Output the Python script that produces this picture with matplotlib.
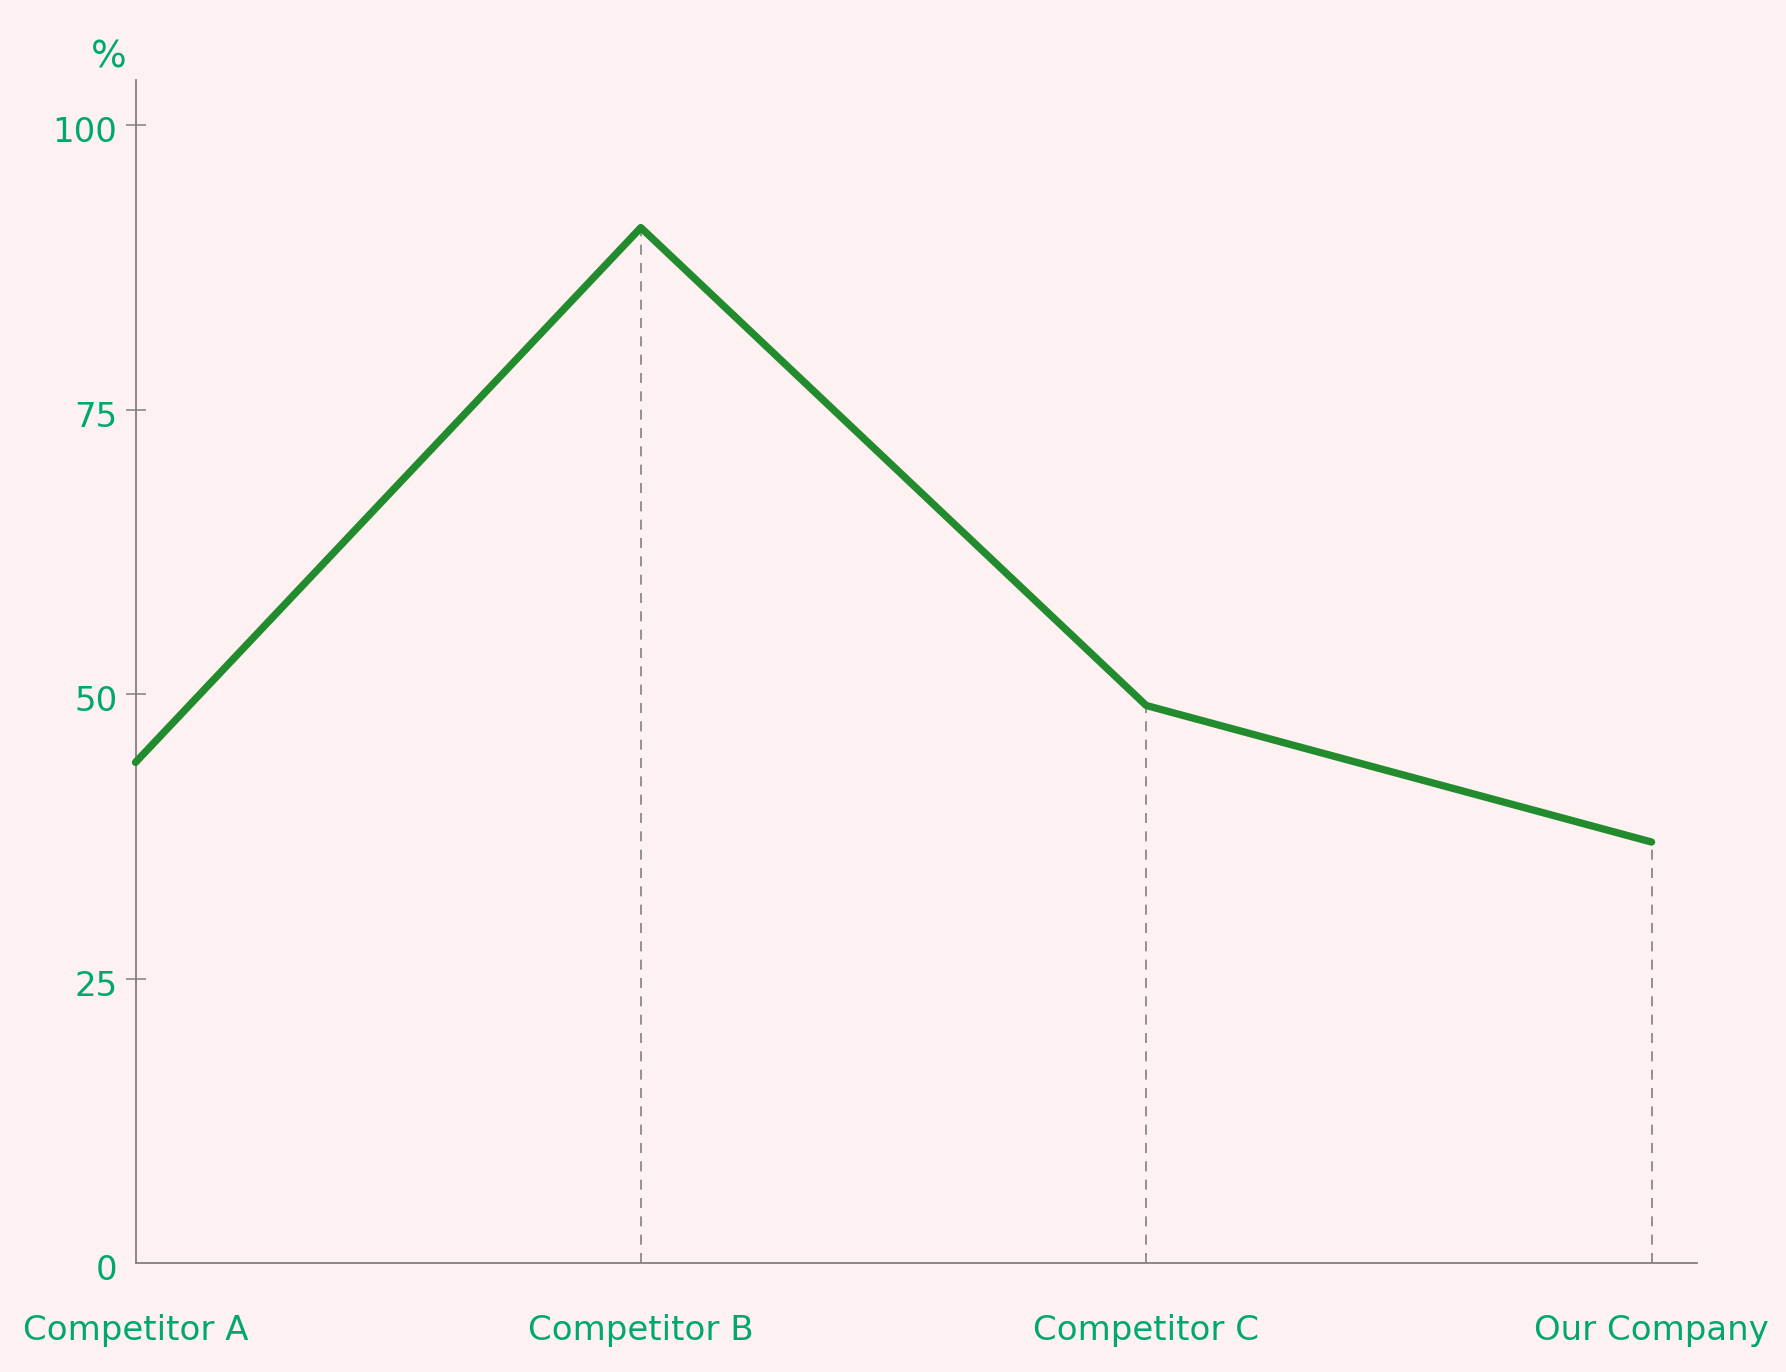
import numpy as np
import matplotlib.pyplot as plt
from matplotlib.transforms import ScaledTranslation

# Data
categories = ["Competitor A", "Competitor B", "Competitor C", "Our Company"]
values = [44, 91, 49, 37]
y_ticks = [0, 25, 50, 75, 100]

bg = '#fdf1f1'
text_green = '#00a870'
line_green = '#228b2e'
axis_gray = '#808080'

fig = plt.figure(figsize=(17.86, 13.72), dpi=100, facecolor=bg)
# axes box in figure fractions (pixel positions measured on reference)
ax = fig.add_axes([135.5 / 1786, 1 - 1263 / 1372, (1697 - 135.5) / 1786, (1263 - 79.7) / 1372])
ax.set_facecolor(bg)

x = np.arange(len(categories))

# dashed drop lines from each point (except the first, which sits on the axis)
ax.vlines(x[1:], 0, values[1:], colors=axis_gray, linestyles=(0, (6, 5)), linewidth=1.2, zorder=1)

ax.plot(x, values, color=line_green, linewidth=5.3, solid_capstyle='round',
        solid_joinstyle='round', clip_on=False, zorder=3)

ax.set_xlim(0, 3.09)
ax.set_ylim(0, 104)

for side in ['top', 'right']:
    ax.spines[side].set_visible(False)
for side in ['left', 'bottom']:
    ax.spines[side].set_color(axis_gray)
    ax.spines[side].set_linewidth(1.3)

ax.set_yticks(y_ticks)
ax.set_yticklabels([str(v) for v in y_ticks])
ax.tick_params(axis='y', direction='inout', length=14, width=1.1, color=axis_gray,
               labelcolor=text_green, labelsize=24.5, pad=6)
ax.yaxis.get_major_ticks()[0].tick1line.set_visible(False)
# labels sit a little below their ticks in the reference
shift = ScaledTranslation(0, -4 / 100, fig.dpi_scale_trans)
for lbl in ax.get_yticklabels():
    lbl.set_va('center_baseline')
    lbl.set_transform(lbl.get_transform() + shift)

ax.set_xticks(x)
ax.set_xticklabels(categories)
ax.tick_params(axis='x', length=0, labelcolor=text_green, labelsize=24.5, pad=37)

fig.text(109 / 1786, 1 - 57 / 1372, '%', ha='center', va='center', color=text_green, fontsize=27)

fig.savefig('out.png', dpi=100, facecolor=bg)
